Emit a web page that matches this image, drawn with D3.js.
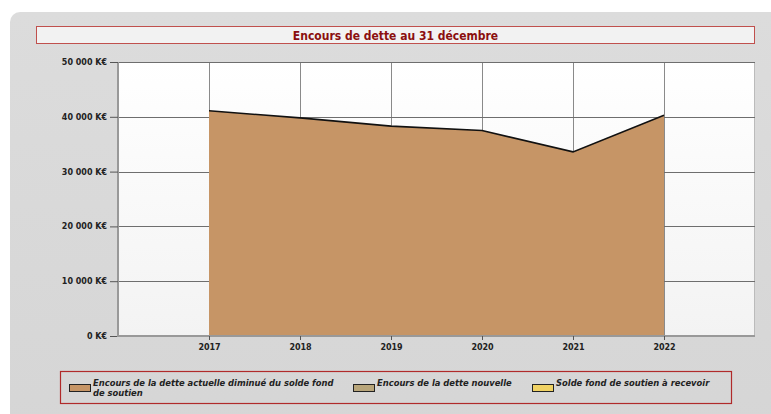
<!DOCTYPE html>
<html><head><meta charset="utf-8">
<script src="https://cdn.jsdelivr.net/npm/d3@7"></script>
<style>html,body{margin:0;padding:0;background:#fff;}svg{display:block;}</style>
</head><body>
<script>
const years = [2017, 2018, 2019, 2020, 2021, 2022];
const detteActuelle = [41100, 39800, 38300, 37500, 33600, 40300];
const detteNouvelle = [0, 0, 0, 0, 0, 0];
const soldeFond = [0, 0, 0, 0, 0, 0];
const yTicks = [0, 10000, 20000, 30000, 40000, 50000];
const seriesNames = ["Encours de la dette actuelle diminué du solde fond de soutien", "Encours de la dette nouvelle", "Solde fond de soutien à recevoir"];
const seriesColors = ["#c69566", "#b8a57a", "#f0d264"];
const title = "Encours de dette au 31 décembre";

const W = 771, H = 414;
const svg = d3.select("body").append("svg").attr("width", W).attr("height", H);
const defs = svg.append("defs");
const pg = defs.append("linearGradient").attr("id","panelG").attr("x1",0).attr("y1",0).attr("x2",0).attr("y2",1);
pg.append("stop").attr("offset","0").attr("stop-color","#dcdcdc");
pg.append("stop").attr("offset","1").attr("stop-color","#d5d5d5");
const bg = defs.append("linearGradient").attr("id","plotG").attr("x1",0).attr("y1",0).attr("x2",0).attr("y2",1);
bg.append("stop").attr("offset","0").attr("stop-color","#ffffff");
bg.append("stop").attr("offset","1").attr("stop-color","#f3f3f3");

svg.append("rect").attr("x",10).attr("y",12).attr("width",800).attr("height",450).attr("rx",10).attr("fill","url(#panelG)");

// Title
svg.append("rect").attr("x",36.5).attr("y",26.5).attr("width",718).attr("height",17).attr("fill","#f2f2f2").attr("stroke","#c0504d").attr("stroke-width",1);
svg.append("text").attr("x",395.5).attr("y",39.5).attr("text-anchor","middle")
  .attr("font-family","DejaVu Sans Condensed, DejaVu Sans").attr("font-weight","bold").attr("font-size",12)
  .attr("fill","#8b0f0f").text(title);

const L = 118, R = 755, T = 62, B = 336;
const x = d3.scaleLinear().domain([2016, 2023]).range([L, R]);
const y = d3.scaleLinear().domain([0, 50000]).range([B, T]);

svg.append("rect").attr("x",L).attr("y",T).attr("width",R-L).attr("height",B-T).attr("fill","url(#plotG)");
svg.append("line").attr("x1",R-0.5).attr("x2",R-0.5).attr("y1",T).attr("y2",B).attr("stroke","#bbbbbb");

// grid
svg.append("g").selectAll("line").data(years).join("line")
  .attr("x1",d=>Math.round(x(d))+0.5).attr("x2",d=>Math.round(x(d))+0.5).attr("y1",T).attr("y2",B)
  .attr("stroke","#8a8a8a").attr("stroke-width",1);
svg.append("g").selectAll("line").data(yTicks.filter(v=>v>0)).join("line")
  .attr("x1",L).attr("x2",R).attr("y1",d=>Math.round(y(d))+0.5).attr("y2",d=>Math.round(y(d))+0.5)
  .attr("stroke","#6e6e6e").attr("stroke-width",1);

// stacked areas
const rows = years.map((yr,i)=>({year:yr, a:detteActuelle[i], b:detteNouvelle[i], c:soldeFond[i]}));
const stack = d3.stack().keys(["a","b","c"])(rows);
const area = d3.area().x(d=>x(d.data.year)).y0(d=>y(d[0])).y1(d=>y(d[1]));
svg.append("g").selectAll("path").data(stack).join("path")
  .attr("d",area).attr("fill",(d,i)=>seriesColors[i]);
const topLine = d3.line().x(d=>x(d.data.year)).y(d=>y(d[1]));
svg.append("path").attr("d",topLine(stack[stack.length-1])).attr("fill","none")
  .attr("stroke","#111").attr("stroke-width",1.6);
svg.append("line").attr("x1",x(years[0])).attr("x2",x(years[years.length-1])).attr("y1",B-0.5).attr("y2",B-0.5)
  .attr("stroke","#a87a50").attr("stroke-width",1);

// axes
const yAxis = d3.axisLeft(y).tickValues(yTicks).tickSize(8).tickPadding(3)
  .tickFormat(d=>d3.format(",")(d).replace(/,/g," ")+" K€");
const gy = svg.append("g").attr("transform",`translate(${L},0)`).call(yAxis);
gy.select(".domain").attr("stroke","#999").attr("stroke-width",2).attr("d",`M0,${T}V${B+1}`);
gy.selectAll(".tick line").attr("stroke","#555").attr("stroke-width",1);
gy.selectAll("text").attr("font-family","DejaVu Sans").attr("font-weight","bold").attr("font-size",8).attr("fill","#222");

const xAxis = d3.axisBottom(x).tickValues(years).tickSize(4).tickPadding(4).tickFormat(d3.format("d"));
const gx = svg.append("g").attr("transform",`translate(0,${B})`).call(xAxis);
gx.select(".domain").attr("stroke","#999").attr("stroke-width",2).attr("d",`M${L-1},0H${R}`);
gx.selectAll(".tick line").attr("stroke","#555");
gx.selectAll("text").attr("font-family","DejaVu Sans").attr("font-weight","bold").attr("font-size",8).attr("fill","#222");

// legend
svg.append("rect").attr("x",60.5).attr("y",371.5).attr("width",671).attr("height",32).attr("fill","none")
  .attr("stroke","#b02a2a").attr("stroke-width",1.2);
const legPos = [{sx:69, tx:93}, {sx:353, tx:377}, {sx:532, tx:556}];
const lg = svg.append("g").selectAll("g").data(seriesNames).join("g");
lg.append("rect").attr("x",(d,i)=>legPos[i].sx+0.5).attr("y",384.5).attr("width",21).attr("height",7)
  .attr("fill",(d,i)=>seriesColors[i]).attr("stroke","#222").attr("stroke-width",1);
lg.each(function(d,i){
  const words = i===0 ? ["Encours de la dette actuelle diminué du solde fond","de soutien"] : [d];
  const t = d3.select(this).append("text").attr("x",legPos[i].tx).attr("y",386)
    .attr("font-family","DejaVu Sans Condensed, DejaVu Sans").attr("font-weight","bold").attr("font-style","italic")
    .attr("font-size",9.3).attr("fill","#222");
  words.forEach((w,j)=>t.append("tspan").attr("x",legPos[i].tx).attr("dy",j?10:0).text(w));
});
</script>
</body></html>
